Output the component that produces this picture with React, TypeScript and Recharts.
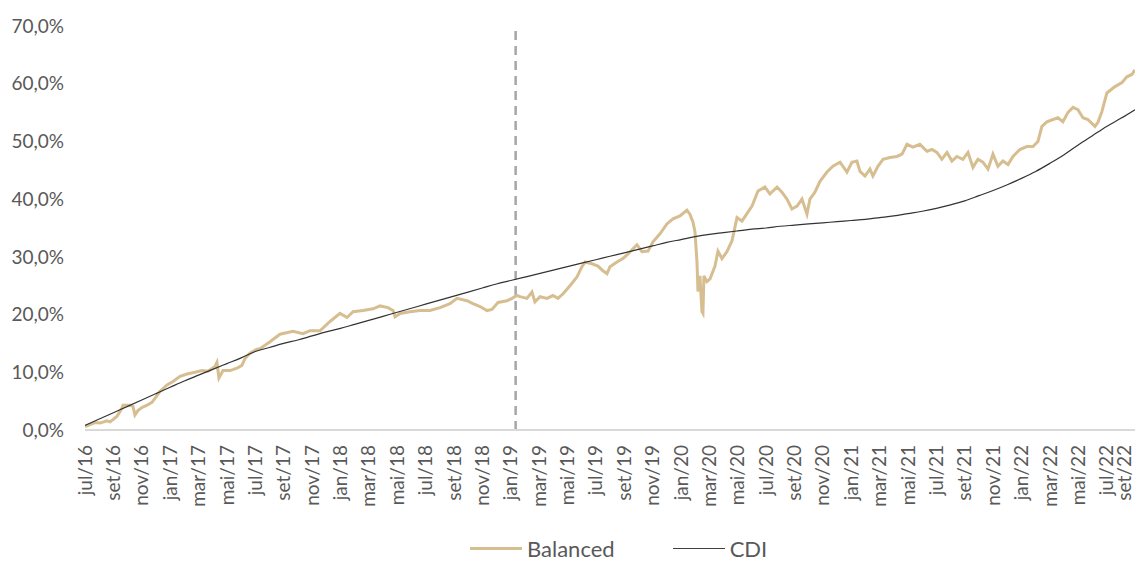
import React from 'react';
import { LineChart, Line, XAxis, YAxis, Legend, ReferenceLine } from 'recharts';

// x values are months since jul/16
const tickLabels = [
    'jul/16', 'set/16', 'nov/16', 'jan/17', 'mar/17', 'mai/17', 'jul/17', 'set/17', 'nov/17',
    'jan/18', 'mar/18', 'mai/18', 'jul/18', 'set/18', 'nov/18', 'jan/19', 'mar/19', 'mai/19',
    'jul/19', 'set/19', 'nov/19', 'jan/20', 'mar/20', 'mai/20', 'jul/20', 'set/20', 'nov/20',
    'jan/21', 'mar/21', 'mai/21', 'jul/21', 'set/21', 'nov/21', 'jan/22', 'mar/22', 'mai/22',
    'jul/22', 'set/22',
];

const balancedMonths = [
    0, 0.7, 1.06, 1.55, 1.76, 1.97, 2.26, 2.61, 2.68, 3.17, 3.38, 3.52, 3.74, 4.02, 4.37, 4.72,
    5.29, 5.78, 6.2, 6.7, 7.19, 7.75, 8.25, 8.67, 9.16, 9.3, 9.44, 9.73, 10.22, 10.71, 11.06,
    11.28, 11.63, 12.12, 12.33, 13.04, 13.74, 14.66, 15.36, 15.86, 16.56, 17.27, 17.97, 18.47,
    18.89, 19.59, 20.3, 20.79, 21.35, 21.71, 21.85, 22.2, 22.9, 23.61, 24.31, 25.02, 25.72,
    26.22, 26.92, 27.34, 27.84, 28.33, 28.68, 29.11, 29.74, 30.09, 30.44, 30.66, 31.15, 31.5,
    31.71, 32.07, 32.56, 32.98, 33.33, 33.69, 34.18, 34.67, 35.02, 35.24, 35.73, 36.15, 36.5,
    36.79, 37.0, 37.49, 37.91, 38.27, 38.62, 38.9, 39.25, 39.68, 40.03, 40.52, 41.01, 41.44,
    41.93, 42.42, 42.63, 42.85, 42.99, 43.13, 43.2, 43.34, 43.48, 43.55, 43.62, 43.83, 44.05,
    44.4, 44.61, 44.89, 45.24, 45.6, 45.95, 46.3, 46.65, 47.01, 47.43, 47.92, 48.27, 48.77,
    49.12, 49.47, 49.82, 50.18, 50.53, 50.88, 51.09, 51.44, 51.8, 52.29, 52.71, 53.21, 53.7,
    54.05, 54.4, 54.62, 54.97, 55.32, 55.53, 55.88, 56.24, 56.73, 57.22, 57.58, 57.93, 58.35,
    58.84, 59.34, 59.69, 60.04, 60.39, 60.75, 61.1, 61.45, 61.87, 62.23, 62.58, 62.93, 63.28,
    63.64, 63.99, 64.34, 64.69, 65.05, 65.4, 65.89, 66.38, 66.81, 67.16, 67.44, 67.79, 68.22,
    68.57, 68.92, 69.27, 69.63, 69.98, 70.33, 70.68, 71.18, 71.39, 71.67, 72.02, 72.59, 73.08,
    73.43, 73.78, 73.99,
];

const balancedValues = [
    0.6, 1.3, 1.2, 1.6, 1.4, 1.8, 2.4, 3.8, 4.3, 4.3, 4.1, 2.6, 3.4, 3.9, 4.3, 4.8,
    6.7, 7.8, 8.4, 9.3, 9.7, 10.0, 10.3, 10.2, 11.0, 11.7, 9.0, 10.3, 10.3, 10.7, 11.2,
    12.4, 13.3, 14.0, 14.1, 15.3, 16.6, 17.1, 16.7, 17.2, 17.2, 18.8, 20.2, 19.5,
    20.5, 20.7, 21.0, 21.5, 21.2, 20.7, 19.6, 20.2, 20.5, 20.7, 20.7, 21.2, 21.9,
    22.8, 22.4, 21.9, 21.4, 20.7, 20.9, 22.1, 22.4, 22.8, 23.3, 23.1, 22.8, 23.9,
    22.2, 23.1, 22.8, 23.3, 22.8, 23.6, 25.0, 26.5, 28.3, 29.1, 28.8, 28.4, 27.6,
    27.1, 28.3, 29.1, 29.7, 30.5, 31.4, 32.1, 30.9, 31.0, 32.6, 34.0, 35.7, 36.6,
    37.1, 38.1, 37.4, 36.0, 34.3, 29.1, 24.0, 26.7, 20.5, 20.2, 26.7, 25.7, 26.2,
    28.4, 31.0, 29.7, 30.9, 32.8, 36.8, 36.2, 37.5, 38.8, 41.4, 42.1, 40.9, 42.1,
    41.2, 40.0, 38.3, 38.8, 40.0, 37.4, 40.0, 41.2, 43.1, 44.7, 45.7, 46.4, 44.7,
    46.4, 46.6, 44.8, 44.0, 45.2, 44.0, 45.7, 46.9, 47.2, 47.4, 47.8, 49.5, 49.0,
    49.5, 48.3, 48.6, 48.1, 46.9, 48.1, 46.6, 47.4, 46.9, 48.1, 45.5, 46.9, 46.4,
    45.2, 47.8, 45.7, 46.6, 46.0, 47.4, 48.6, 49.1, 49.1, 50.0, 52.6, 53.4, 53.8,
    54.1, 53.4, 55.0, 55.9, 55.5, 54.1, 53.8, 52.6, 53.3, 55.2, 58.4, 59.5, 60.2,
    61.2, 61.6, 62.4,
];

// one value per month, from jul/16
const cdiValues = [
    0.8, 1.9, 3.0, 4.1, 5.2, 6.3, 7.4, 8.5, 9.5, 10.5, 11.5, 12.5, 13.6, 14.3, 15.0, 15.6,
    16.3, 17.0, 17.6, 18.3, 19.0, 19.7, 20.4, 21.1, 21.8, 22.5, 23.2, 23.9, 24.6, 25.3, 25.9,
    26.5, 27.1, 27.7, 28.3, 28.9, 29.5, 30.1, 30.7, 31.3, 31.9, 32.5, 33.0, 33.5, 33.9, 34.2,
    34.5, 34.8, 35.0, 35.3, 35.5, 35.7, 35.9, 36.1, 36.3, 36.5, 36.8, 37.1, 37.5, 37.9, 38.4,
    39.0, 39.7, 40.6, 41.5, 42.5, 43.6, 44.8, 46.2, 47.7, 49.4, 51.0, 52.6, 54.0, 55.5,
];

const yTicks = [0, 10, 20, 30, 40, 50, 60, 70];
const splitMonth = 30.35;

const balancedData = balancedMonths.map((m, i) => ({ m, value: balancedValues[i] }));
const cdiData = cdiValues.map((value, i) => ({ m: i, value }));
const xTicks = tickLabels.map((_, i) => i * 2);

const FONT = 'Lato, "Open Sans", sans-serif';
const TEXT = '#595959';

const MonthTick = (props: any) => {
    const { x, y, payload } = props;
    // keep the last label inside the picture
    const tx = Math.min(x, 1124);
    return (
        <text
            transform={`translate(${tx},${y}) rotate(-90)`}
            textAnchor="end"
            dy="0.35em"
            fill={TEXT}
            fontSize={19}
            fontFamily={FONT}
        >
            {tickLabels[Math.round(payload.value / 2)]}
        </text>
    );
};

const ChartLegend = () => (
    <div
        style={{
            display: 'flex',
            alignItems: 'center',
            paddingLeft: 470,
            height: 26,
            fontFamily: FONT,
            fontSize: 22,
            color: TEXT,
        }}
    >
        <span style={{ width: 52, height: 3, background: '#d6be90', display: 'inline-block' }} />
        <span style={{ marginLeft: 5 }}>Balanced</span>
        <span style={{ marginLeft: 58, width: 52, height: 1, background: '#404040', display: 'inline-block' }} />
        <span style={{ marginLeft: 5 }}>CDI</span>
    </div>
);

const App = () => {
    return (
        <div style={{ position: 'absolute', left: 0, top: 0 }}>
            <LineChart width={1137} height={562} margin={{ top: 26, right: 2, left: 0, bottom: 1 }}>
                <XAxis
                    type="number"
                    dataKey="m"
                    domain={[0, 74]}
                    ticks={xTicks}
                    interval={0}
                    tick={<MonthTick />}
                    tickLine={false}
                    tickSize={0}
                    tickMargin={15}
                    height={105}
                    axisLine={{ stroke: '#d9d9d9', strokeWidth: 2 }}
                    allowDataOverflow
                />
                <YAxis
                    type="number"
                    domain={[0, 70]}
                    ticks={yTicks}
                    width={85}
                    axisLine={false}
                    tickLine={false}
                    tickSize={0}
                    tickMargin={21}
                    tickFormatter={(v: number) => `${v.toFixed(1).replace('.', ',')}%`}
                    tick={{ fill: TEXT, fontSize: 19, fontFamily: FONT }}
                />
                <Legend verticalAlign="bottom" content={<ChartLegend />} />
                <ReferenceLine
                    segment={[
                        { x: splitMonth, y: 0 },
                        { x: splitMonth, y: 69.3 },
                    ]}
                    stroke="#a6a6a6"
                    strokeWidth={2.5}
                    strokeDasharray="9 6"
                />
                <Line
                    data={balancedData}
                    dataKey="value"
                    type="linear"
                    stroke="#d6be90"
                    strokeWidth={3}
                    dot={false}
                    isAnimationActive={false}
                />
                <Line
                    data={cdiData}
                    dataKey="value"
                    type="monotone"
                    stroke="#333333"
                    strokeWidth={1.2}
                    dot={false}
                    isAnimationActive={false}
                />
            </LineChart>
        </div>
    );
};

export default App;
